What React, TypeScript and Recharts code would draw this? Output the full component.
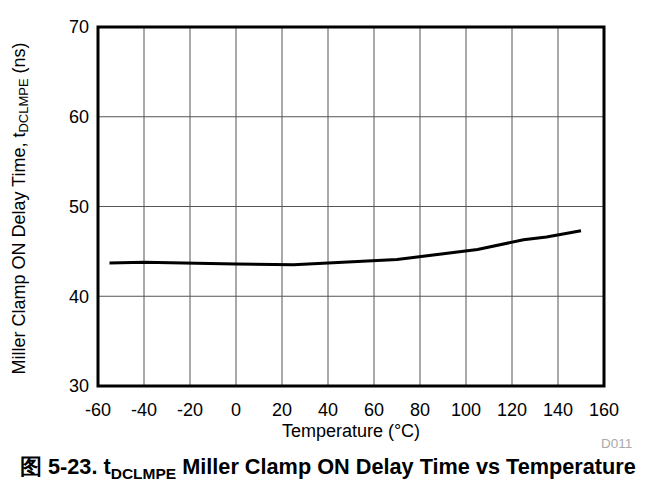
import { LineChart, Line, XAxis, YAxis, CartesianGrid, ReferenceArea } from 'recharts'

const temps = [-55, -40, 0, 25, 70, 105, 125, 135, 150]
const delayNs = [43.7, 43.8, 43.6, 43.5, 44.1, 45.2, 46.3, 46.6, 47.3]
const xTicks = [-60, -40, -20, 0, 20, 40, 60, 80, 100, 120, 140, 160]
const yTicks = [30, 40, 50, 60, 70]

const data = temps.map((t, i) => ({ temp: t, delay: delayNs[i] }))

const FONT = '"Liberation Sans", Arial, Helvetica, sans-serif'

// rotated y title with subscript
const YTitle = (props: any) => {
  const vb = props.viewBox || {}
  const cx = 19
  const cy = (vb.y ?? 27) + (vb.height ?? 359) / 2 + 2
  return (
    <text
      x={cx}
      y={cy}
      transform={`rotate(-90, ${cx}, ${cy})`}
      textAnchor="middle"
      dominantBaseline="central"
      fontSize={18}
      fill="#000"
      fontFamily={FONT}
    >
      Miller Clamp ON Delay Time, t
      <tspan fontSize={13} dy={4}>DCLMPE</tspan>
      <tspan dy={-4}> (ns)</tspan>
    </text>
  )
}

export default function App() {
  return (
    <div
      style={{
        position: 'relative',
        width: 664,
        height: 487,
        margin: -8,
        background: '#fff',
        overflow: 'hidden',
        fontFamily: FONT,
      }}
    >
      {/* frame edges */}
      <div style={{ position: 'absolute', left: 0, top: 0, width: 664, height: 2, background: '#333' }} />
      <div style={{ position: 'absolute', left: 0, top: 0, width: 1, height: 487, background: '#888' }} />

      <LineChart
        width={664}
        height={487}
        data={data}
        margin={{ top: 27, right: 60, bottom: 71, left: 0 }}
      >
        <CartesianGrid stroke="#555" strokeWidth={1} horizontalValues={yTicks} verticalValues={xTicks} />
        <XAxis
          dataKey="temp"
          type="number"
          domain={[-60, 160]}
          ticks={xTicks}
          axisLine={false}
          tickLine={false}
          tickSize={0}
          tickMargin={17}
          height={30}
          interval={0}
          tick={{ fontSize: 18, fill: '#000', fontFamily: FONT }}
          label={{ value: 'Temperature (°C)', position: 'bottom', offset: 8, fontSize: 18, fill: '#000', fontFamily: FONT }}
        />
        <YAxis
          type="number"
          domain={[30, 70]}
          ticks={yTicks}
          axisLine={false}
          tickLine={false}
          tickSize={0}
          tickMargin={9}
          width={98}
          interval={0}
          tick={{ fontSize: 18, fill: '#000', fontFamily: FONT }}
          label={{ content: YTitle }}
        />
        <Line
          type="linear"
          dataKey="delay"
          stroke="#000"
          strokeWidth={3}
          dot={false}
          activeDot={false}
          isAnimationActive={false}
        />
        <ReferenceArea x1={-60} x2={160} y1={30} y2={70} fill="none" stroke="#000" strokeWidth={3} />
      </LineChart>

      <div style={{ position: 'absolute', left: 601, top: 437, fontSize: 13.5, lineHeight: '14px', color: '#aaa' }}>
        D011
      </div>

      <div
        style={{
          position: 'absolute',
          left: 20,
          top: 456,
          fontSize: 21.7,
          lineHeight: '22px',
          fontWeight: 'bold',
          color: '#000',
          whiteSpace: 'nowrap',
        }}
      >
        图 5-23. t
        <span style={{ fontSize: 15.5, position: 'relative', top: 5 }}>DCLMPE</span> Miller Clamp ON Delay Time vs
        Temperature
      </div>
    </div>
  )
}
